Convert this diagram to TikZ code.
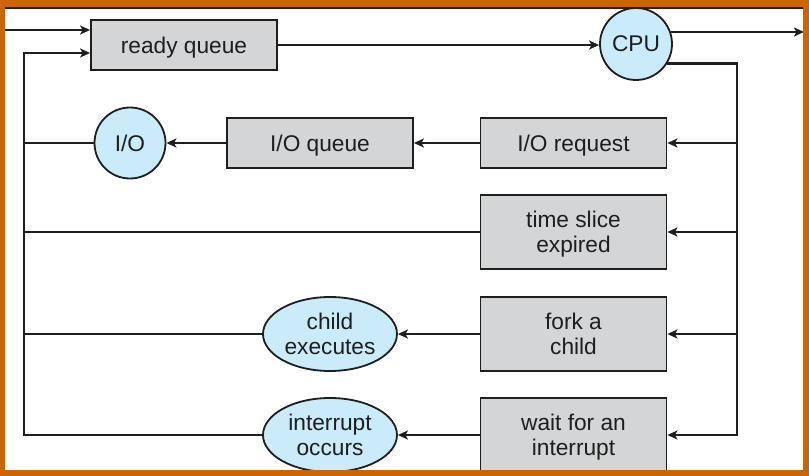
\documentclass[tikz,border=0pt]{standalone}
\usepackage{fontspec}
\setmainfont{Liberation Sans}
\usetikzlibrary{arrows.meta,shapes.geometric}
\definecolor{boxgray}{RGB}{212,213,215}
\definecolor{cblue}{RGB}{202,235,250}
\definecolor{frameor}{RGB}{204,100,0}
\definecolor{ink}{RGB}{30,30,30}
\begin{document}
\begin{tikzpicture}[x=1pt,y=-1pt,
  every node/.style={font=\fontsize{22.7}{25}\selectfont, text=ink, align=center, inner sep=0pt, text depth=0pt},
  qbox/.style={draw=ink, line width=1.8pt, fill=boxgray, minimum width=186pt, minimum height=50pt},
  tbox/.style={qbox, minimum height=74pt},
  res/.style={circle, draw=ink, line width=1.8pt, fill=cblue, minimum size=71pt},
  evt/.style={ellipse, draw=ink, line width=1.8pt, fill=cblue, minimum width=134pt, minimum height=74pt},
  link/.style={draw=ink, line width=2.4pt},
  arr/.style={link, -{Stealth[length=10pt,width=9pt,inset=2.5pt]}}]
\useasboundingbox (0,0) rectangle (809,476);
% nodes
\node[qbox] (rq) at (184,45) {ready queue};
\node[res, minimum size=72pt] (cpu) at (636,44) {CPU};
\node[res] (io) at (130,143) {I/O};
\node[qbox] (ioq) at (320,143) {I/O queue};
\node[qbox] (ioreq) at (573.5,143) {I/O request};
\node[tbox] (ts) at (573.5,232) {time slice\\expired};
\node[tbox] (fork) at (573.5,334) {fork a\\child};
\node[tbox] (wait) at (573.5,435) {wait for an\\interrupt};
\node[evt] (child) at (330,334) {child\\executes};
\node[evt] (intr) at (330,435) {interrupt\\occurs};
% coordinates
\coordinate (entry) at (5,30);
\coordinate (exit) at (804,32);
\coordinate (bus) at (737,63);
\coordinate (left) at (24,53);
% connectors
\draw[arr] (entry) -- (entry -| rq.west);
\draw[arr] (rq.east) -- (rq.east -| cpu.west);
\draw[arr] (cpu.19) -- (cpu.19 -| exit);
\draw[arr] (cpu.-32) -- (cpu.-32 -| bus) -- (bus |- wait) -- (wait.east);
\draw[arr] (bus |- ioreq) -- (ioreq.east);
\draw[arr] (bus |- ts) -- (ts.east);
\draw[arr] (bus |- fork) -- (fork.east);
\draw[arr] (ioreq.west) -- (ioq.east);
\draw[arr] (ioq.west) -- (io.east);
\draw[arr] (fork.west) -- (child.east);
\draw[arr] (wait.west) -- (intr.east);
\draw[link] (io.west) -- (io.west -| left);
\draw[link] (ts.west) -- (ts.west -| left);
\draw[link] (child.west) -- (child.west -| left);
\draw[arr] (intr.west) -- (intr.west -| left) -- (left) -- (left -| rq.west);
% frame
\fill[frameor, even odd rule] (0,0) rectangle (809,476) (5,7) rectangle (803,470);
\draw[ink, line width=2pt] (5,8) -- (803,8);
\end{tikzpicture}
\end{document}
